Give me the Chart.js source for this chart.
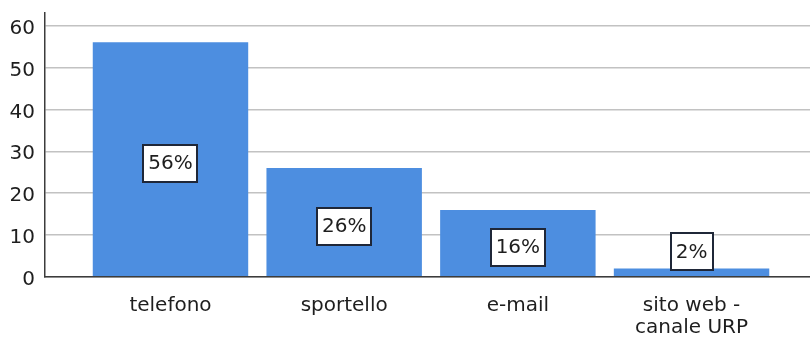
<!DOCTYPE html>
<html>
<head>
<meta charset="utf-8">
<script src="https://cdn.jsdelivr.net/npm/chart.js@4.4.1/dist/chart.umd.min.js"></script>
<style>
  html, body { margin: 0; padding: 0; background: #fff; }
  canvas { display: block; }
</style>
</head>
<body>
<canvas id="chart" width="810" height="338"></canvas>
<script>
const categories = ['telefono', 'sportello', 'e-mail', ['sito web -', 'canale URP']];
const percentages = [56, 26, 16, 2];
const yTicks = [0, 10, 20, 30, 40, 50, 60];

const FONT = { family: '"DejaVu Sans", sans-serif', size: 20, lineHeight: 1.1 };
const TEXT = '#1e1e1e';

// boxed percentage in the middle of each bar (kept above the axis for short bars)
const boxLabels = {
  id: 'boxLabels',
  afterDatasetsDraw(chart) {
    const ctx = chart.ctx;
    const meta = chart.getDatasetMeta(0);
    ctx.save();
    ctx.font = `${FONT.size}px ${FONT.family}`;
    ctx.textAlign = 'center';
    ctx.textBaseline = 'middle';
    meta.data.forEach((bar, i) => {
      const text = percentages[i] + '%';
      const w = Math.round(ctx.measureText(text).width + 10);
      const h = 37;
      let cy = (bar.y + bar.base) / 2 + 4;
      cy = Math.min(cy, bar.base - h / 2 - 6);
      const x0 = Math.round(bar.x - w / 2);
      const y0 = Math.round(cy - h / 2);
      ctx.fillStyle = '#fff';
      ctx.fillRect(x0, y0, w, h);
      ctx.lineWidth = 2;
      ctx.strokeStyle = '#1f2738';
      ctx.strokeRect(x0, y0, w, h);
      ctx.fillStyle = TEXT;
      ctx.fillText(text, bar.x, cy + 1);
    });
    ctx.restore();
  }
};

new Chart(document.getElementById('chart'), {
  type: 'bar',
  data: {
    datasets: [{
      data: percentages.map((v, i) => ({ x: i, y: v })),
      backgroundColor: '#4d8ee0',
      categoryPercentage: 1,
      barPercentage: 0.895
    }]
  },
  options: {
    responsive: false,
    animation: false,
    devicePixelRatio: 1,
    layout: { padding: { top: 13, left: 0, right: 0, bottom: 0 } },
    plugins: { legend: { display: false }, tooltip: { enabled: false } },
    scales: {
      x: {
        type: 'linear',
        offset: false,
        min: -0.7225,
        max: 3.682,
        afterBuildTicks: s => { s.ticks = categories.map((c, i) => ({ value: i })); },
        afterFit: s => { s.height = 61; s.paddingLeft = 0; s.paddingRight = 0; },
        grid: { display: false, drawTicks: false, offset: false },
        border: { display: true, color: '#3c3c3c', width: 1.5, z: 1 },
        ticks: {
          padding: 18, color: TEXT, font: FONT, maxRotation: 0, autoSkip: false,
          callback: v => categories[v]
        }
      },
      y: {
        min: 0,
        max: 63,
        afterBuildTicks: s => { s.ticks = yTicks.map(v => ({ value: v })); },
        afterFit: s => { s.width = 45; s.paddingTop = 0; s.paddingBottom = 0; },
        grid: { color: '#c2c2c2', lineWidth: 1.5, drawTicks: false },
        border: { display: true, color: '#3c3c3c', width: 1.5 },
        ticks: { padding: 10, color: TEXT, font: FONT, labelOffset: 3 }
      }
    }
  },
  plugins: [boxLabels]
});
</script>
</body>
</html>
